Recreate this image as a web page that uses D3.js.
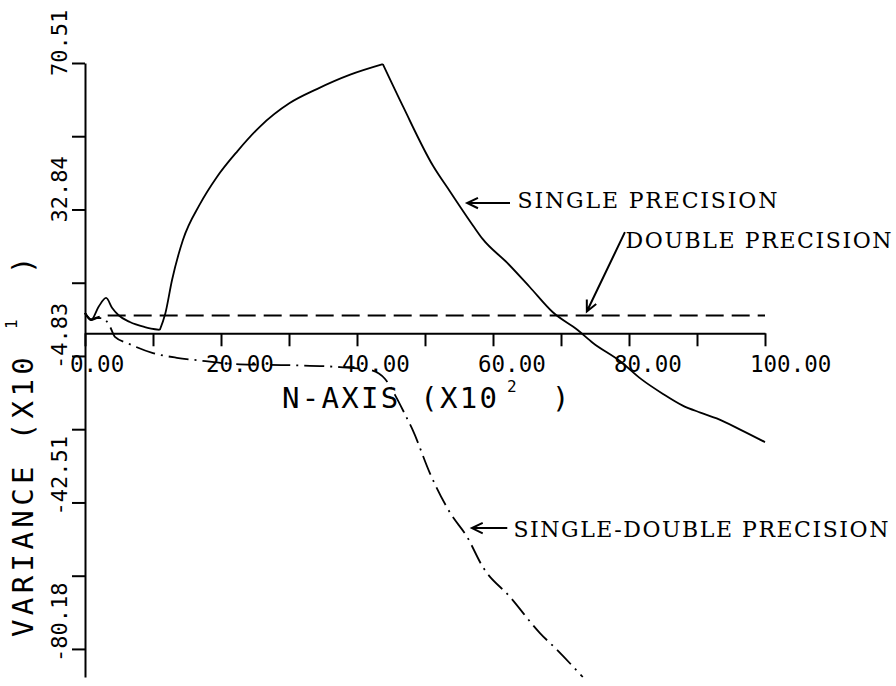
<!DOCTYPE html>
<html>
<head>
<meta charset="utf-8">
<script src="https://cdn.jsdelivr.net/npm/d3@7"></script>
<style>
  html, body { margin: 0; padding: 0; background: #ffffff; }
  svg { display: block; }
</style>
</head>
<body>
<script>
// ---------------- DATA ----------------
const xTickValues = [0, 10, 20, 30, 40, 50, 60, 70, 80, 90, 100];
const xTickLabels = ["0.00", "", "20.00", "", "40.00", "", "60.00", "", "80.00", "", "100.00"];
const yTickValues = [70.51, 51.68, 32.84, 14.00, -4.83, -23.67, -42.51, -61.35, -80.18];
const yTickLabels = ["70.51", "", "32.84", "", "-4.83", "", "-42.51", "", "-80.18"];
const yDomain = [-87.4, 70.51];
const xDomain = [0, 100];
const xAxisCrossing = 1.0;

// SINGLE PRECISION (solid); corners (plotter pen turns) at indices listed in singleCorners
const singleN = [0, 0.9, 2.0, 3.1, 4.0, 4.9, 6.6, 8.8, 11.0,
                 11.8, 12.8, 14.4, 16.9, 19.4, 22.4, 25.7, 30.1, 34.1, 39.0, 43.8,
                 46.8, 51.2, 53.7, 57.1, 58.5, 62.1, 65.4, 68.8, 72.4, 74.7, 78.7, 81.8, 85.0, 87.9, 90.5, 92.9, 96.5, 100.0];
const singleV = [6.2, 4.4, 7.8, 10.1, 7.5, 5.7, 3.9, 2.6, 1.85,
                 6.0, 14.7, 25.0, 34.2, 41.2, 47.8, 54.1, 60.2, 63.8, 67.5, 70.2,
                 59.2, 44.0, 37.4, 28.6, 25.2, 19.1, 12.9, 6.4, 1.9, -1.5, -6.2, -10.8, -14.6, -17.6, -19.4, -20.9, -23.9, -27.0];
const singleCorners = [8, 19];

// DOUBLE PRECISION (dashed)
const doubleN = [0, 0.9, 2.0, 4.0, 100.0];
const doubleV = [6.2, 4.6, 5.2, 5.6, 5.6];

// SINGLE-DOUBLE PRECISION (dash-dot)
const sdN = [0, 0.9, 1.8, 2.6, 3.7, 4.4, 6.2, 10.0, 13.5, 16.9, 22.8, 30.1, 37.5, 41.9, 44.1, 45.6, 47.1, 48.2, 50.7,
             53.7, 56.2, 58.5, 62.5, 66.9, 69.4, 73.2];
const sdV = [6.2, 4.4, 4.9, 4.9, 2.6, 0.05, -1.5, -4.1, -5.3, -6.0, -7.0, -7.2, -7.7, -8.4, -10.7, -14.9, -20.0, -23.9, -34.9,
             -45.2, -51.4, -59.1, -66.8, -76.1, -80.4, -87.4];

// Annotations: label, arrow tail (n, v), arrow tip (n, v), text anchor (n, v)
const annLabels = ["SINGLE PRECISION", "DOUBLE PRECISION", "SINGLE-DOUBLE PRECISION"];
const annTail = [[62.5, 34.5], [79.4, 27.0], [62.1, -49.1]];
const annTip  = [[56.2, 34.5], [73.8, 6.6], [56.9, -49.1]];
const annText = [[63.6, 33.1], [79.5, 23.0], [63.0, -51.4]];
const annWidth = [260, 266, 375];

// ---------------- CHART ----------------
const W = 896, H = 686;
const svg = d3.select("body").append("svg").attr("width", W).attr("height", H);

const x = d3.scaleLinear().domain(xDomain).range([85, 765]);
const y = d3.scaleLinear().domain(yDomain).range([677, 63]);

const axisFont = "'DejaVu Sans Mono', monospace";
const annFont = "'DejaVu Serif', 'Liberation Serif', serif";

// Y axis
const yAxis = d3.axisLeft(y).tickValues(yTickValues).tickFormat("").tickSize(13).tickSizeOuter(0);
const gy = svg.append("g").attr("transform", `translate(${x(0)},0)`).call(yAxis);
gy.select(".domain").attr("stroke", "#000").attr("stroke-width", 2);
gy.selectAll(".tick line").attr("stroke", "#000").attr("stroke-width", 2);

// Y tick labels (rotated)
yTickValues.forEach((v, i) => {
  if (!yTickLabels[i]) return;
  svg.append("text")
    .attr("transform", `translate(67,${y(v) + 13}) rotate(-90)`)
    .attr("font-family", axisFont).attr("font-size", 22).attr("fill", "#000")
    .text(yTickLabels[i]);
});

// X axis
const xAxis = d3.axisBottom(x).tickValues(xTickValues).tickFormat("").tickSize(13).tickSizeOuter(0);
const gx = svg.append("g").attr("transform", `translate(0,${y(xAxisCrossing)})`).call(xAxis);
gx.select(".domain").attr("stroke", "#000").attr("stroke-width", 2);
gx.selectAll(".tick line").attr("stroke", "#000").attr("stroke-width", 2);

xTickValues.forEach((v, i) => {
  if (!xTickLabels[i]) return;
  svg.append("text")
    .attr("x", x(v) - 15).attr("y", 372)
    .attr("font-family", axisFont).attr("font-size", 22.5).attr("fill", "#000")
    .text(xTickLabels[i]);
});

// X axis title
const xt = svg.append("g").attr("font-family", axisFont).attr("fill", "#000");
xt.append("text").attr("x", 282).attr("y", 408).attr("font-size", 29).attr("letter-spacing", 2.3).text("N-AXIS (X10");
xt.append("text").attr("x", 507).attr("y", 392).attr("font-size", 16).text("2");
xt.append("text").attr("x", 552).attr("y", 408).attr("font-size", 29).text(")");

// Y axis title (rotated)
const yt = svg.append("g").attr("font-family", axisFont).attr("fill", "#000");
yt.append("text").attr("transform", "translate(33,637) rotate(-90)").attr("font-size", 29).attr("letter-spacing", 4.4).text("VARIANCE (X10");
yt.append("text").attr("transform", "translate(17,329) rotate(-90)").attr("font-size", 16).text("1");
yt.append("text").attr("transform", "translate(33,274) rotate(-90)").attr("font-size", 29).text(")");

// Series
const line = d3.line().x(d => x(d[0])).y(d => y(d[1])).curve(d3.curveMonotoneX);
const singleData = singleN.map((n, i) => [n, singleV[i]]);
const doubleData = doubleN.map((n, i) => [n, doubleV[i]]);
const sdData = sdN.map((n, i) => [n, sdV[i]]);

// split single precision at its corners so the pen turns stay sharp
const bounds = [0, ...singleCorners, singleData.length - 1];
const singlePath = d3.range(bounds.length - 1)
  .map(k => line(singleData.slice(bounds[k], bounds[k + 1] + 1))).join("");

svg.append("path").datum(doubleData).attr("d", line)
  .attr("fill", "none").attr("stroke", "#000").attr("stroke-width", 2).attr("stroke-dasharray", "18,8");
svg.append("path").datum(sdData).attr("d", line)
  .attr("fill", "none").attr("stroke", "#000").attr("stroke-width", 1.8).attr("stroke-dasharray", "20,6,2,6");
svg.append("path").attr("d", singlePath)
  .attr("fill", "none").attr("stroke", "#000").attr("stroke-width", 1.8).attr("stroke-linejoin", "round");

// Annotations
annLabels.forEach((lab, i) => {
  const tx = x(annTail[i][0]), ty = y(annTail[i][1]);
  const hx = x(annTip[i][0]), hy = y(annTip[i][1]);
  const ang = Math.atan2(ty - hy, tx - hx);
  const L = 12, a = 0.45;
  const p1 = [hx + L * Math.cos(ang + a), hy + L * Math.sin(ang + a)];
  const p2 = [hx + L * Math.cos(ang - a), hy + L * Math.sin(ang - a)];
  svg.append("path")
    .attr("d", `M${tx},${ty}L${hx},${hy}M${p1[0]},${p1[1]}L${hx},${hy}L${p2[0]},${p2[1]}`)
    .attr("fill", "none").attr("stroke", "#000").attr("stroke-width", 2);
  svg.append("text")
    .attr("x", x(annText[i][0])).attr("y", y(annText[i][1]))
    .attr("font-family", annFont).attr("font-size", 22).attr("fill", "#000")
    .attr("textLength", annWidth[i]).attr("lengthAdjust", "spacing")
    .text(lab);
});
</script>
</body>
</html>
